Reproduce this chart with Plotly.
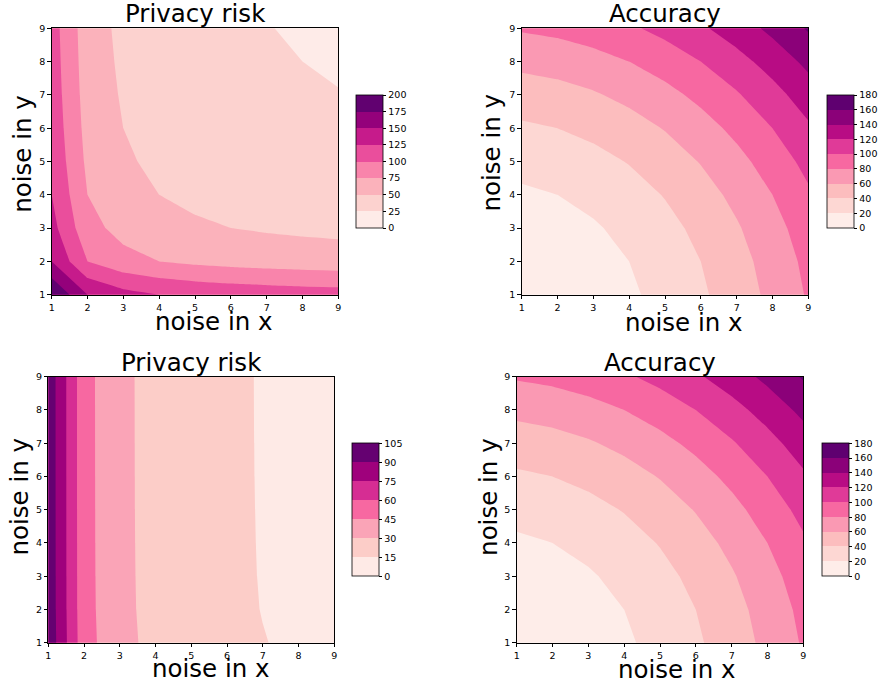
import plotly.graph_objects as go

# ---------------- data ----------------
noise_x = [1, 2, 3, 4, 5, 6, 7, 8, 9]
noise_y = [1, 2, 3, 4, 5, 6, 7, 8, 9]

# rows = noise in y (1..9), columns = noise in x (1..9)
privacy_risk_top = [
    [200.0, 150.0, 133.3, 125.0, 120.0, 116.7, 114.3, 112.5, 111.1],
    [150.0, 100.0, 83.3, 75.0, 70.0, 66.7, 64.3, 62.5, 61.1],
    [133.3, 83.3, 66.7, 58.3, 53.3, 50.0, 47.6, 45.8, 44.4],
    [125.0, 75.0, 58.3, 50.0, 45.0, 41.7, 39.3, 37.5, 36.1],
    [120.0, 70.0, 53.3, 45.0, 40.0, 36.7, 34.3, 32.5, 31.1],
    [116.7, 66.7, 50.0, 41.7, 36.7, 33.3, 31.0, 29.2, 27.8],
    [114.3, 64.3, 47.6, 39.3, 34.3, 31.0, 28.6, 26.8, 25.4],
    [112.5, 62.5, 45.8, 37.5, 32.5, 29.2, 26.8, 25.0, 23.6],
    [111.1, 61.1, 44.4, 36.1, 31.1, 27.8, 25.4, 23.6, 22.2],
]

privacy_risk_bottom = [
    [101.00, 51.00, 34.33, 26.00, 21.00, 17.67, 15.29, 13.50, 12.11],
    [100.50, 50.50, 33.83, 25.50, 20.50, 17.17, 14.79, 13.00, 11.61],
    [100.33, 50.33, 33.67, 25.33, 20.33, 17.00, 14.62, 12.83, 11.44],
    [100.25, 50.25, 33.58, 25.25, 20.25, 16.92, 14.54, 12.75, 11.36],
    [100.20, 50.20, 33.53, 25.20, 20.20, 16.87, 14.49, 12.70, 11.31],
    [100.17, 50.17, 33.50, 25.17, 20.17, 16.83, 14.45, 12.67, 11.28],
    [100.14, 50.14, 33.48, 25.14, 20.14, 16.81, 14.43, 12.64, 11.25],
    [100.13, 50.13, 33.46, 25.13, 20.13, 16.79, 14.41, 12.63, 11.24],
    [100.11, 50.11, 33.44, 25.11, 20.11, 16.78, 14.40, 12.61, 11.22],
]

accuracy = [
    [2, 5, 10, 17, 26, 37, 50, 65, 82],
    [5, 8, 13, 20, 29, 40, 53, 68, 85],
    [10, 13, 18, 25, 34, 45, 58, 73, 90],
    [17, 20, 25, 32, 41, 52, 65, 80, 97],
    [26, 29, 34, 41, 50, 61, 74, 89, 106],
    [37, 40, 45, 52, 61, 72, 85, 100, 117],
    [50, 53, 58, 65, 74, 85, 98, 113, 130],
    [65, 68, 73, 80, 89, 100, 113, 128, 145],
    [82, 85, 90, 97, 106, 117, 130, 145, 162],
]

titles = ["Privacy risk", "Accuracy", "Privacy risk", "Accuracy"]
x_label = "noise in x"
y_label = "noise in y"
levels_top_risk = [0, 200, 25]     # start, end, step
levels_bottom_risk = [0, 105, 15]
levels_accuracy = [0, 180, 20]

# ---------------- colours (matplotlib RdPu) ----------------
RDPU = [
    (1.0, 0.96862745, 0.95294118),
    (0.99215686, 0.87843137, 0.86666667),
    (0.98823529, 0.77254902, 0.75294118),
    (0.98039216, 0.62352941, 0.70980392),
    (0.96862745, 0.40784314, 0.63137255),
    (0.86666667, 0.20392157, 0.59215686),
    (0.68235294, 0.00392157, 0.49411765),
    (0.47843137, 0.00392157, 0.46666667),
    (0.28627451, 0.0, 0.41568627),
]


def rdpu(t):
    t = min(max(t, 0.0), 1.0)
    pos = t * 8
    i = min(int(pos), 7)
    f = pos - i
    a, b = RDPU[i], RDPU[i + 1]
    c = [a[k] + (b[k] - a[k]) * f for k in range(3)]
    return "rgb(%d,%d,%d)" % tuple(round(v * 255) for v in c)


def stepped_scale(nb):
    band = [rdpu((k + 0.5) / nb) for k in range(nb)]
    nc = nb + 1
    cols = [band[0]] + band + [band[-1]]
    scale = []
    for j, c in enumerate(cols):
        lo = max(0.0, (j - 0.5) / nc)
        hi = min(1.0, (j + 0.5) / nc)
        scale.append([lo, c])
        scale.append([hi, c])
    return scale


W, H = 879, 689


def px(x):
    return x / W


def py(y):
    return 1 - y / H


# plot areas in pixels: (left, right, top, bottom)
areas = [
    (51.7, 338.3, 28.3, 294.7),
    (521.7, 808.3, 28.3, 294.7),
    (48.3, 334.3, 376.7, 642.7),
    (516.7, 803.3, 376.7, 642.7),
]
# colourbars in pixels: (left, right, top, bottom)
cbars = [
    (356.3, 383.7, 95.0, 228.3),
    (826.7, 854.0, 95.0, 228.3),
    (352.3, 379.7, 443.3, 576.3),
    (821.7, 849.0, 443.3, 576.3),
]

datasets = [privacy_risk_top, accuracy, privacy_risk_bottom, accuracy]
levelsets = [levels_top_risk, levels_accuracy, levels_bottom_risk, levels_accuracy]

FONT = "DejaVu Sans"
fig = go.Figure()

for i in range(4):
    z = datasets[i]
    start, end, step = levelsets[i]
    nb = round((end - start) / step)
    tickvals = [start + k * step for k in range(nb + 1)]
    cl, cr, ct, cbm = cbars[i]
    sfx = "" if i == 0 else str(i + 1)
    fig.add_trace(go.Contour(
        x=noise_x, y=noise_y, z=z,
        xaxis="x" + sfx, yaxis="y" + sfx,
        autocontour=False,
        contours=dict(start=start, end=end, size=step, coloring="fill", showlines=False),
        line=dict(width=0, smoothing=0),
        colorscale=stepped_scale(nb),
        zauto=False, zmin=start, zmax=end,
        colorbar=dict(
            x=px(cl), xanchor="left", xpad=0,
            y=py(ct), yanchor="top", ypad=0,
            len=cbm - ct, lenmode="pixels",
            thickness=cr - cl, thicknessmode="pixels",
            outlinewidth=0.8, outlinecolor="black",
            tickmode="array", tickvals=tickvals,
            ticktext=[str(v) for v in tickvals],
            ticks="outside", ticklen=3.5, tickwidth=0.8, tickcolor="black",
            tickfont=dict(family=FONT, size=9.5, color="black"),
        ),
        showscale=True,
        hoverinfo="skip",
    ))

layout = dict(
    template="none",
    width=W, height=H, autosize=False,
    margin=dict(l=0, r=0, t=0, b=0, pad=0),
    paper_bgcolor="white", plot_bgcolor="white",
    showlegend=False,
    font=dict(family=FONT, color="black"),
)

axis_common = dict(
    range=[1, 9], tickmode="array", tickvals=noise_x,
    ticktext=[str(v) for v in noise_x],
    showgrid=False, zeroline=False, automargin=False,
    showline=True, mirror=True, linecolor="black", linewidth=0.8,
    ticks="outside", ticklen=3.5, tickwidth=0.8, tickcolor="black",
    tickfont=dict(family=FONT, size=9.5, color="black"),
)

annotations = []
title_y_centers = [13.5, 13.5, 362.5, 362.5]
xlabel_centers = [(213.8, 321.5), (683.5, 322.2), (210.8, 668.8), (677.2, 669.5)]
ylabel_centers = [(21.8, 154.0), (491.0, 152.5), (19.8, 496.7), (488.2, 496.7)]

for i in range(4):
    l, r, t, b = areas[i]
    sfx = "" if i == 0 else str(i + 1)
    xa = dict(axis_common, domain=[px(l), px(r)], anchor="y" + sfx)
    ya = dict(axis_common, domain=[py(b), py(t)], anchor="x" + sfx)
    layout["xaxis" + sfx] = xa
    layout["yaxis" + sfx] = ya
    annotations.append(dict(
        text=titles[i], x=px((l + r) / 2), y=py(title_y_centers[i]),
        xref="paper", yref="paper", xanchor="center", yanchor="middle",
        showarrow=False, font=dict(family=FONT, size=24.5, color="black"),
    ))
    xc, yc = xlabel_centers[i]
    annotations.append(dict(
        text=x_label, x=px(xc), y=py(yc),
        xref="paper", yref="paper", xanchor="center", yanchor="middle",
        showarrow=False, font=dict(family=FONT, size=24.5, color="black"),
    ))
    xc, yc = ylabel_centers[i]
    annotations.append(dict(
        text=y_label, x=px(xc), y=py(yc), textangle=-90,
        xref="paper", yref="paper", xanchor="center", yanchor="middle",
        showarrow=False, font=dict(family=FONT, size=24.5, color="black"),
    ))

layout["annotations"] = annotations
fig.update_layout(**layout)
fig.write_html(
    "out.html",
    config={"displayModeBar": False},
    post_script="document.body.style.margin='0';document.body.style.padding='0';",
)
